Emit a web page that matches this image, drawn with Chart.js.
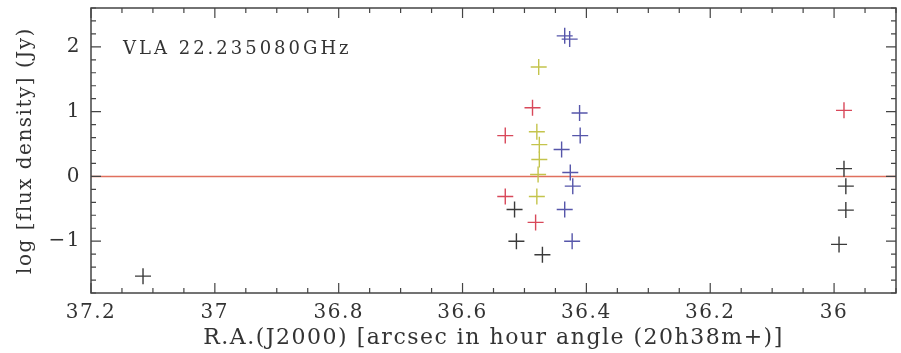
<!DOCTYPE html>
<html>
<head>
<meta charset="utf-8">
<script src="https://cdn.jsdelivr.net/npm/chart.js@4/dist/chart.umd.min.js"></script>
<style>
  html, body { margin: 0; padding: 0; background: #fff; }
</style>
</head>
<body>
<canvas id="chart" width="901" height="353"></canvas>
<script>
// R.A. offsets (arcsec) and log flux density, per colour group
const blackX = [37.116, 36.516, 36.513, 36.471, 35.984, 35.981, 35.981, 35.992];
const blackY = [-1.54, -0.51, -1.0, -1.21, 0.12, -0.15, -0.52, -1.05];
const redX = [36.487, 36.531, 36.531, 36.482, 35.984];
const redY = [1.06, 0.63, -0.31, -0.71, 1.02];
const yellowX = [36.477, 36.480, 36.476, 36.476, 36.478, 36.480];
const yellowY = [1.69, 0.69, 0.49, 0.26, 0.03, -0.31];
const blueX = [36.435, 36.427, 36.411, 36.410, 36.440, 36.426, 36.422, 36.435, 36.423];
const blueY = [2.17, 2.12, 0.98, 0.63, 0.415, 0.06, -0.15, -0.51, -1.0];

const xTickValues = [37.2, 37, 36.8, 36.6, 36.4, 36.2, 36];
const yTickValues = [-1, 0, 1, 2];
const plotLabel = 'VLA 22.235080GHz';

const FONT = '"DejaVu Serif", serif';
const INK = '#333333';

function pts(xs, ys) {
  return xs.map((x, i) => ({x: x, y: ys[i]}));
}

function series(xs, ys, color) {
  return {
    data: pts(xs, ys),
    pointStyle: 'cross',
    pointRadius: 8,
    pointBorderWidth: 1.4,
    borderColor: color,
    backgroundColor: color,
    showLine: false
  };
}

function noPad(s) {
  s.paddingTop = 0; s.paddingBottom = 0; s.paddingLeft = 0; s.paddingRight = 0;
}

const frame = {
  id: 'frame',
  beforeDraw(chart) {
    chart.ctx.letterSpacing = '1.5px';
  },
  beforeDatasetsDraw(chart) {
    const {ctx, chartArea: a, scales: {y}} = chart;
    const y0 = y.getPixelForValue(0);
    ctx.save();
    ctx.strokeStyle = '#e0705e';
    ctx.lineWidth = 1.5;
    ctx.beginPath();
    ctx.moveTo(a.left, y0);
    ctx.lineTo(a.right, y0);
    ctx.stroke();
    ctx.restore();
  },
  afterDraw(chart) {
    const {ctx, chartArea: a, scales: {x, y}} = chart;
    ctx.save();
    ctx.strokeStyle = '#444';
    ctx.lineWidth = 1.5;
    ctx.strokeRect(a.left, a.top, a.right - a.left, a.bottom - a.top);
    ctx.lineWidth = 1.2;
    ctx.beginPath();
    // x ticks, every 0.05, major every 0.2
    for (let i = Math.ceil(x.min / 0.05 - 1e-6); i <= Math.floor(x.max / 0.05 + 1e-6); i++) {
      const px = x.getPixelForValue(i * 0.05);
      const len = i % 4 === 0 ? 10 : 5;
      ctx.moveTo(px, a.bottom); ctx.lineTo(px, a.bottom - len);
      ctx.moveTo(px, a.top); ctx.lineTo(px, a.top + len);
    }
    // y ticks, every 0.2, major every 1
    for (let i = Math.ceil(y.min / 0.2 - 1e-6); i <= Math.floor(y.max / 0.2 + 1e-6); i++) {
      const py = y.getPixelForValue(i * 0.2);
      const len = i % 5 === 0 ? 10 : 5;
      ctx.moveTo(a.left, py); ctx.lineTo(a.left + len, py);
      ctx.moveTo(a.right, py); ctx.lineTo(a.right - len, py);
    }
    ctx.stroke();
    ctx.fillStyle = INK;
    ctx.font = '18px ' + FONT;
    ctx.letterSpacing = '3px';
    ctx.textBaseline = 'alphabetic';
    ctx.fillText(plotLabel, a.left + 32, a.top + 46);
    ctx.restore();
    ctx.letterSpacing = '0px';
  }
};

new Chart(document.getElementById('chart'), {
  type: 'scatter',
  data: {
    datasets: [
      series(blackX, blackY, '#3a3a3a'),
      series(redX, redY, '#d8485a'),
      series(yellowX, yellowY, '#c4c44c'),
      series(blueX, blueY, '#5656aa')
    ]
  },
  options: {
    responsive: false,
    animation: false,
    layout: {autoPadding: false, padding: {left: 0, top: 8, right: 5, bottom: 0}},
    plugins: {legend: {display: false}, tooltip: {enabled: false}},
    scales: {
      x: {
        type: 'linear',
        reverse: true,
        min: 35.9,
        max: 37.2,
        afterBuildTicks: s => { s.ticks = xTickValues.map(v => ({value: v})); },
        afterFit: s => { s.height = 60; noPad(s); },
        grid: {display: false, drawTicks: false},
        border: {display: false},
        ticks: {
          color: INK,
          font: {family: FONT, size: 20},
          padding: 8,
          autoSkip: false,
          maxRotation: 0,
          callback: v => String(Math.round(v * 10) / 10)
        },
        title: {
          display: true,
          text: 'R.A.(J2000) [arcsec in hour angle (20h38m+)]',
          color: INK,
          font: {family: FONT, size: 22},
          padding: {top: 0, bottom: 2}
        }
      },
      y: {
        type: 'linear',
        min: -1.8,
        max: 2.6,
        afterBuildTicks: s => { s.ticks = yTickValues.map(v => ({value: v})); },
        afterFit: s => { s.width = 91; noPad(s); },
        grid: {display: false, drawTicks: false},
        border: {display: false},
        ticks: {
          color: INK,
          font: {family: FONT, size: 20},
          padding: 10,
          callback: v => v < 0 ? '\u2212' + Math.abs(v) : String(v)
        },
        title: {
          display: true,
          text: 'log [flux density] (Jy)',
          color: INK,
          font: {family: FONT, size: 20},
          padding: {top: 14, bottom: 0}
        }
      }
    }
  },
  plugins: [frame]
});
</script>
</body>
</html>
